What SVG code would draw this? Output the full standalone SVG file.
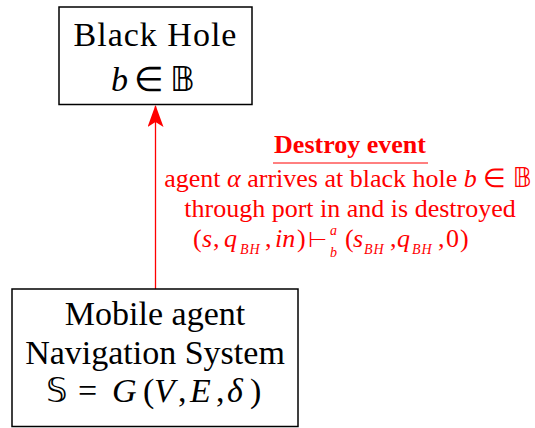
<svg xmlns="http://www.w3.org/2000/svg" width="535" height="428" viewBox="0 0 535 428">
<defs>
<style>
.box{fill:#fff;stroke:#000;stroke-width:1.5}
.t{font-family:"Liberation Serif","Times New Roman",serif;font-size:34px;fill:#000;text-anchor:middle}
.m{font-family:"Liberation Serif","Times New Roman",serif;font-size:34px;fill:#000}
.l{font-family:"Liberation Serif","Times New Roman",serif;font-size:26px;fill:#ff0000;text-anchor:middle}
.lm{font-family:"Liberation Serif","Times New Roman",serif;font-size:26px;fill:#ff0000}
.i{font-style:italic}
.bb{font-family:"DejaVu Sans",sans-serif;font-style:normal}
.sub{font-size:14px;letter-spacing:1px}
</style>
<marker id="ah" viewBox="0 0 22 16" refX="21" refY="8" markerWidth="22" markerHeight="16" markerUnits="userSpaceOnUse" orient="auto">
<path d="M0,0 L22,8 L0,16 L5,8 Z" fill="#ff0000"/>
</marker>
</defs>
<g id="connectors">
<line x1="155.5" y1="289" x2="155.5" y2="106" stroke="#ff0000" stroke-width="1.3" marker-end="url(#ah)"/>
<g id="label">
<text class="l" x="350" y="153" font-weight="bold">Destroy event</text>
<line x1="273" y1="163" x2="428" y2="163" stroke="#ff0000" stroke-width="1"/>
<text class="l" x="348" y="187">agent <tspan class="i">α</tspan> arrives at black hole <tspan class="i">b</tspan> ∈ <tspan class="bb">𝔹</tspan></text>
<text class="l" x="350" y="217">through port in and is destroyed</text>
<text class="lm" y="247"><tspan x="193">(</tspan><tspan class="i" x="202">s</tspan><tspan x="213">,</tspan><tspan class="i" x="224">q</tspan><tspan class="i sub" x="240" y="254">BH</tspan><tspan x="265" y="247">,</tspan><tspan class="i" x="275">in</tspan><tspan x="297">)</tspan><tspan x="308" font-size="22">⊢</tspan><tspan class="i sub" x="330" y="235">a</tspan><tspan class="i sub" x="330" y="257">b</tspan><tspan x="345" y="247">(</tspan><tspan class="i" x="353">s</tspan><tspan class="i sub" x="364" y="254">BH</tspan><tspan x="390" y="247">,</tspan><tspan class="i" x="397">q</tspan><tspan class="i sub" x="412" y="254">BH</tspan><tspan x="438" y="247">,</tspan><tspan x="446">0</tspan><tspan x="460">)</tspan></text>
</g>
</g>
<g id="black-hole">
<rect class="box" x="59" y="7" width="193" height="97.5"/>
<text class="t" x="155.5" y="46" letter-spacing="1">Black Hole</text>
<text class="m" y="90.5"><tspan class="i" x="111">b</tspan><tspan x="134">∈</tspan><tspan class="bb" x="170">𝔹</tspan></text>
</g>
<g id="navigation-system">
<rect class="box" x="12" y="289" width="286" height="137.5"/>
<text class="t" x="155" y="325">Mobile agent</text>
<text class="t" x="155" y="364">Navigation System</text>
<text class="m" y="402"><tspan class="bb" x="46">𝕊</tspan><tspan x="78">=</tspan><tspan class="i" x="112">G</tspan><tspan x="143">(</tspan><tspan class="i" x="154">V</tspan><tspan x="178">,</tspan><tspan class="i" x="190">E</tspan><tspan x="216">,</tspan><tspan class="i" x="227">δ</tspan><tspan x="250">)</tspan></text>
</g>
</svg>
